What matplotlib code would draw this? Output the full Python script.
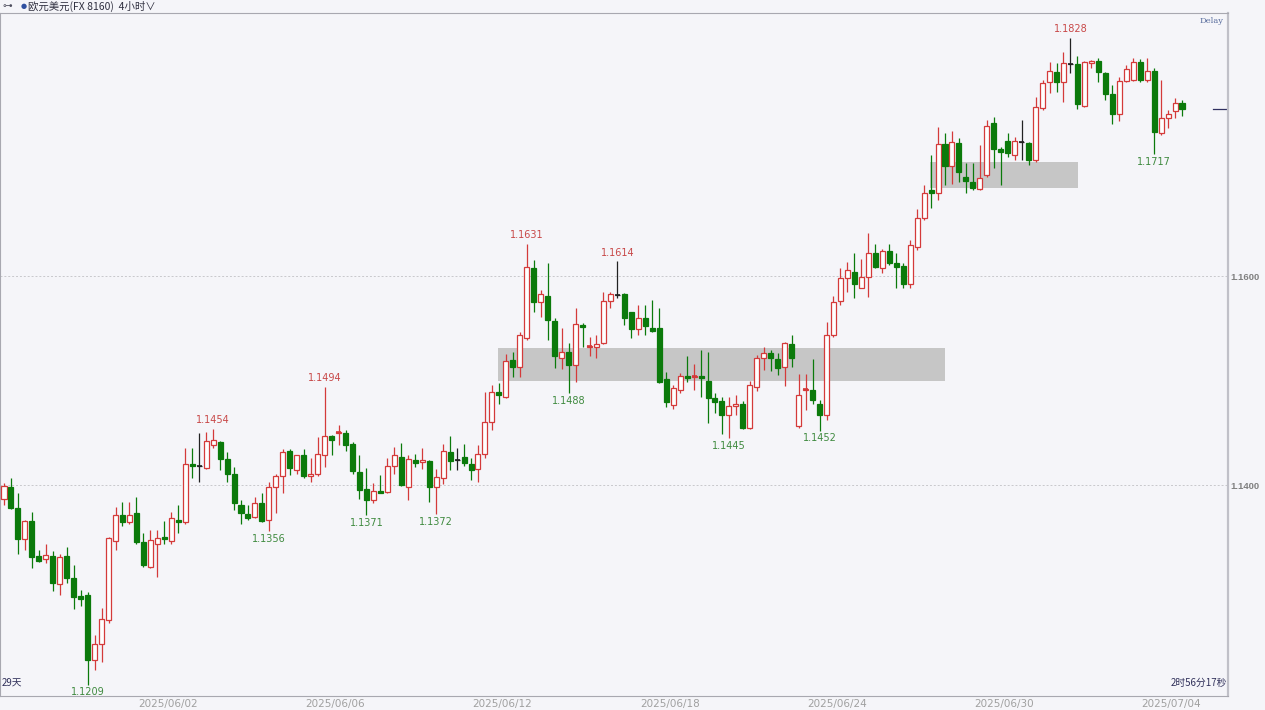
import matplotlib
matplotlib.use('Agg')
import matplotlib.pyplot as plt
import numpy as np

# 4-hour EUR/USD candles, oldest first
opens = [1.1387, 1.1398, 1.1378, 1.1348, 1.1366, 1.1332, 1.1329, 1.1332, 1.1305, 1.1332,
         1.1311, 1.1294, 1.1295, 1.1233, 1.1248, 1.1271, 1.1346, 1.1371, 1.1365, 1.1373,
         1.1345, 1.1322, 1.1344, 1.1350, 1.1346, 1.1367, 1.1365, 1.1420, 1.1418, 1.1416,
         1.1438, 1.1441, 1.1425, 1.1411, 1.1381, 1.1372, 1.1369, 1.1383, 1.1367, 1.1398,
         1.1409, 1.1433, 1.1414, 1.1429, 1.1409, 1.1411, 1.1429, 1.1447, 1.1450, 1.1450,
         1.1439, 1.1412, 1.1396, 1.1386, 1.1394, 1.1393, 1.1418, 1.1427, 1.1398, 1.1424,
         1.1422, 1.1423, 1.1398, 1.1407, 1.1432, 1.1424, 1.1427, 1.1420, 1.1415, 1.1430,
         1.1460, 1.1489, 1.1484, 1.1520, 1.1513, 1.1541, 1.1608, 1.1575, 1.1581, 1.1557,
         1.1522, 1.1527, 1.1515, 1.1553, 1.1532, 1.1532, 1.1536, 1.1576, 1.1582, 1.1583,
         1.1566, 1.1549, 1.1560, 1.1550, 1.1550, 1.1501, 1.1477, 1.1491, 1.1504, 1.1503,
         1.1504, 1.1500, 1.1483, 1.1480, 1.1467, 1.1476, 1.1478, 1.1455, 1.1494, 1.1522,
         1.1526, 1.1521, 1.1513, 1.1535, 1.1456, 1.1491, 1.1491, 1.1478, 1.1467, 1.1544,
         1.1576, 1.1598, 1.1604, 1.1589, 1.1599, 1.1622, 1.1608, 1.1624, 1.1612, 1.1610,
         1.1592, 1.1628, 1.1656, 1.1682, 1.1679, 1.1726, 1.1705, 1.1727, 1.1695, 1.1690,
         1.1683, 1.1697, 1.1746, 1.1722, 1.1729, 1.1716, 1.1728, 1.1727, 1.1711, 1.1761,
         1.1786, 1.1795, 1.1786, 1.1803, 1.1803, 1.1763, 1.1804, 1.1806, 1.1794, 1.1774,
         1.1755, 1.1787, 1.1788, 1.1805, 1.1788, 1.1796, 1.1737, 1.1751, 1.1758, 1.1766]
highs = [1.1402, 1.1407, 1.1392, 1.1367, 1.1374, 1.1338, 1.1344, 1.1337, 1.1334, 1.1341,
         1.1323, 1.1300, 1.1298, 1.1256, 1.1282, 1.1350, 1.1379, 1.1384, 1.1384, 1.1389,
         1.1354, 1.1357, 1.1357, 1.1366, 1.1374, 1.1381, 1.1435, 1.1435, 1.1450, 1.1451,
         1.1454, 1.1442, 1.1432, 1.1417, 1.1386, 1.1381, 1.1389, 1.1392, 1.1403, 1.1411,
         1.1434, 1.1434, 1.1429, 1.1434, 1.1426, 1.1446, 1.1494, 1.1448, 1.1457, 1.1453,
         1.1441, 1.1429, 1.1416, 1.1402, 1.1410, 1.1426, 1.1436, 1.1440, 1.1429, 1.1430,
         1.1435, 1.1424, 1.1415, 1.1439, 1.1447, 1.1435, 1.1439, 1.1426, 1.1438, 1.1489,
         1.1496, 1.1498, 1.1525, 1.1527, 1.1546, 1.1631, 1.1615, 1.1587, 1.1612, 1.1560,
         1.1550, 1.1536, 1.1569, 1.1555, 1.1542, 1.1544, 1.1585, 1.1585, 1.1614, 1.1584,
         1.1566, 1.1572, 1.1572, 1.1577, 1.1569, 1.1508, 1.1496, 1.1507, 1.1523, 1.1516,
         1.1529, 1.1527, 1.1488, 1.1484, 1.1484, 1.1486, 1.1480, 1.1500, 1.1524, 1.1532,
         1.1529, 1.1526, 1.1537, 1.1544, 1.1506, 1.1506, 1.1521, 1.1481, 1.1556, 1.1581,
         1.1608, 1.1613, 1.1622, 1.1616, 1.1641, 1.1631, 1.1626, 1.1631, 1.1622, 1.1612,
         1.1634, 1.1664, 1.1687, 1.1716, 1.1743, 1.1737, 1.1739, 1.1732, 1.1708, 1.1708,
         1.1725, 1.1749, 1.1752, 1.1723, 1.1737, 1.1733, 1.1749, 1.1728, 1.1771, 1.1788,
         1.1805, 1.1804, 1.1814, 1.1828, 1.1811, 1.1806, 1.1807, 1.1809, 1.1795, 1.1783,
         1.1790, 1.1802, 1.1809, 1.1808, 1.1809, 1.1799, 1.1788, 1.1759, 1.1770, 1.1768]
lows = [1.1381, 1.1377, 1.1334, 1.1338, 1.1321, 1.1326, 1.1325, 1.1299, 1.1295, 1.1306,
        1.1281, 1.1284, 1.1209, 1.1223, 1.1231, 1.1268, 1.1338, 1.1361, 1.1363, 1.1344,
        1.1322, 1.1321, 1.1312, 1.1344, 1.1344, 1.1354, 1.1363, 1.1407, 1.1403, 1.1415,
        1.1435, 1.1414, 1.1403, 1.1376, 1.1363, 1.1367, 1.1368, 1.1365, 1.1356, 1.1373,
        1.1392, 1.1410, 1.1411, 1.1407, 1.1403, 1.1409, 1.1417, 1.1429, 1.1438, 1.1433,
        1.1411, 1.1387, 1.1371, 1.1383, 1.1392, 1.1392, 1.1411, 1.1399, 1.1386, 1.1417,
        1.1415, 1.1384, 1.1372, 1.1401, 1.1414, 1.1414, 1.1418, 1.1405, 1.1403, 1.1426,
        1.1453, 1.1478, 1.1483, 1.1503, 1.1503, 1.1539, 1.1566, 1.1561, 1.1539, 1.1512,
        1.1511, 1.1488, 1.1499, 1.1532, 1.1523, 1.1522, 1.1535, 1.1569, 1.1579, 1.1553,
        1.1541, 1.1544, 1.1544, 1.1546, 1.1498, 1.1475, 1.1473, 1.1488, 1.1499, 1.1491,
        1.1484, 1.1459, 1.1469, 1.1449, 1.1445, 1.1467, 1.1454, 1.1454, 1.1490, 1.1510,
        1.1509, 1.1505, 1.1495, 1.1513, 1.1455, 1.1472, 1.1478, 1.1452, 1.1462, 1.1542,
        1.1572, 1.1585, 1.1579, 1.1589, 1.1580, 1.1608, 1.1603, 1.1611, 1.1589, 1.1589,
        1.1589, 1.1625, 1.1654, 1.1665, 1.1673, 1.1687, 1.1688, 1.1690, 1.1679, 1.1682,
        1.1682, 1.1695, 1.1703, 1.1687, 1.1714, 1.1711, 1.1711, 1.1706, 1.1709, 1.1759,
        1.1775, 1.1776, 1.1767, 1.1794, 1.1760, 1.1762, 1.1799, 1.1786, 1.1768, 1.1745,
        1.1748, 1.1786, 1.1787, 1.1786, 1.1786, 1.1717, 1.1735, 1.1742, 1.1751, 1.1753]
closes = [1.1399, 1.1378, 1.1348, 1.1366, 1.1331, 1.1327, 1.1333, 1.1306, 1.1331, 1.1311,
          1.1293, 1.1291, 1.1233, 1.1248, 1.1272, 1.1349, 1.1371, 1.1365, 1.1371, 1.1345,
          1.1323, 1.1347, 1.1349, 1.1348, 1.1368, 1.1365, 1.1420, 1.1418, 1.1418, 1.1442,
          1.1443, 1.1425, 1.1411, 1.1383, 1.1373, 1.1368, 1.1383, 1.1366, 1.1398, 1.1409,
          1.1432, 1.1416, 1.1429, 1.1409, 1.1411, 1.1430, 1.1447, 1.1443, 1.1451, 1.1438,
          1.1413, 1.1395, 1.1386, 1.1394, 1.1392, 1.1418, 1.1429, 1.1400, 1.1425, 1.1421,
          1.1424, 1.1398, 1.1408, 1.1433, 1.1423, 1.1424, 1.1421, 1.1414, 1.1430, 1.1460,
          1.1489, 1.1486, 1.1519, 1.1513, 1.1544, 1.1609, 1.1575, 1.1583, 1.1558, 1.1523,
          1.1527, 1.1515, 1.1554, 1.1551, 1.1533, 1.1535, 1.1576, 1.1583, 1.1582, 1.1560,
          1.1549, 1.1560, 1.1552, 1.1547, 1.1499, 1.1479, 1.1493, 1.1504, 1.1502, 1.1504,
          1.1502, 1.1483, 1.1479, 1.1467, 1.1476, 1.1478, 1.1455, 1.1496, 1.1522, 1.1526,
          1.1522, 1.1512, 1.1536, 1.1522, 1.1486, 1.1492, 1.1481, 1.1467, 1.1544, 1.1575,
          1.1598, 1.1606, 1.1592, 1.1599, 1.1622, 1.1609, 1.1624, 1.1612, 1.1609, 1.1592,
          1.1630, 1.1656, 1.1679, 1.1679, 1.1726, 1.1705, 1.1728, 1.1700, 1.1691, 1.1684,
          1.1694, 1.1744, 1.1722, 1.1719, 1.1718, 1.1729, 1.1728, 1.1711, 1.1762, 1.1785,
          1.1796, 1.1786, 1.1804, 1.1803, 1.1765, 1.1805, 1.1806, 1.1795, 1.1774, 1.1755,
          1.1787, 1.1798, 1.1805, 1.1788, 1.1796, 1.1738, 1.1751, 1.1755, 1.1766, 1.1760]

# swing points labelled on the chart: candle index
swing_highs = [30, 46, 75, 88, 153]
swing_lows = [12, 38, 52, 62, 81, 104, 117, 165]

# shaded price zones: (first candle, last candle, lower price, upper price)
zones = [(70.9, 135.0, 1.1500, 1.1531),
         (132.9, 154.1, 1.1684, 1.1709)]

date_labels = ['2025/06/02', '2025/06/06', '2025/06/12', '2025/06/18',
               '2025/06/24', '2025/06/30', '2025/07/04']
date_pos = [23.5, 47.5, 71.5, 95.5, 119.5, 143.5, 167.5]
price_ticks = [1.1400, 1.1600]

BG = '#f5f5f9'
UP = '#d43a3a'
DOWN = '#0b7a0b'
CJK = ['Noto Sans CJK SC', 'DejaVu Sans']

fig = plt.figure(figsize=(12.65, 7.10), dpi=100, facecolor=BG)
ax = fig.add_axes([0.0, 14 / 710, 1228 / 1265, 683 / 710])
ax.set_facecolor(BG)

o = np.array(opens)
h = np.array(highs)
l = np.array(lows)
c = np.array(closes)
idx = np.arange(len(o))

colors = np.where(c > o, UP, np.where(c < o, DOWN, '#222222'))
fills = np.where(c > o, 'white', colors)

# wicks
ax.vlines(idx, l, h, colors=colors, linewidth=0.9, zorder=3)
# bodies
width = 0.72
body_lo = np.minimum(o, c)
body_h = np.abs(c - o)
ax.bar(idx, body_h, width=width, bottom=body_lo, facecolor=fills,
       edgecolor=colors, linewidth=0.9, zorder=4)
# doji crosses
for i in idx[body_h < 0.00015]:
    ax.hlines(c[i], i - width / 2, i + width / 2, colors=colors[i], linewidth=1.2, zorder=5)

for x0, x1, y0, y1 in zones:
    ax.add_patch(plt.Rectangle((x0, y0), x1 - x0, y1 - y0, facecolor='#c6c6c6',
                               edgecolor='none', zorder=1))

for i in swing_highs:
    ax.annotate(f'{h[i]:.4f}', (i, h[i]), xytext=(0, 2.5), textcoords='offset points',
                ha='center', va='bottom', fontsize=7, color='#c84848', zorder=6)
for i in swing_lows:
    ax.annotate(f'{l[i]:.4f}', (i, l[i]), xytext=(0, -2), textcoords='offset points',
                ha='center', va='top', fontsize=7, color='#3f8a3f', zorder=6)

for p in price_ticks:
    ax.axhline(p, color='#c8c8cc', linewidth=0.7, linestyle=(0, (2, 2)), zorder=0)

# last price marker
ax.axhline(c[-1], xmin=0.988, xmax=1.0, color='#303060', linewidth=0.9)

ax.set_xlim(-0.574, 175.6)
ax.set_ylim(1.11981, 1.18517)

ax.yaxis.tick_right()
ax.set_yticks(price_ticks)
ax.set_yticklabels([f'{p:.4f}' for p in price_ticks], fontsize=6.8, color='#808080',
                   fontweight='bold', family='Liberation Sans')
ax.set_xticks(date_pos)
ax.set_xticklabels(date_labels, fontsize=7.5, color='#a0a0a0')
ax.tick_params(axis='both', length=0, pad=2)

for side in ['top', 'bottom', 'left']:
    ax.spines[side].set_color('#a8a8b0')
    ax.spines[side].set_linewidth(0.8)
ax.spines['right'].set_color('#c0c0c8')
ax.spines['right'].set_linewidth(1.6)

fig.text(2 / 1265, 1 - 6 / 710, '⊶', fontsize=7, color='#505060', va='center')
fig.text(21 / 1265, 1 - 6 / 710, '●', fontsize=5, color='#3050a0', va='center')
fig.text(28 / 1265, 1 - 6 / 710, '欧元美元(FX 8160)  4小时∨', fontsize=7.5,
         family=CJK, color='#303040', va='center')
ax.text(0.996, 0.994, 'Delay', transform=ax.transAxes, ha='right', va='top',
        fontsize=6, family='DejaVu Serif', color='#5a6e9e')
ax.text(0.001, 0.012, '29天', transform=ax.transAxes, ha='left', va='bottom',
        fontsize=7, family=CJK, color='#30305a')
ax.text(0.999, 0.012, '2时56分17秒', transform=ax.transAxes, ha='right', va='bottom',
        fontsize=7, family=CJK, color='#30305a')

fig.savefig('out.png', dpi=100, facecolor=BG)
